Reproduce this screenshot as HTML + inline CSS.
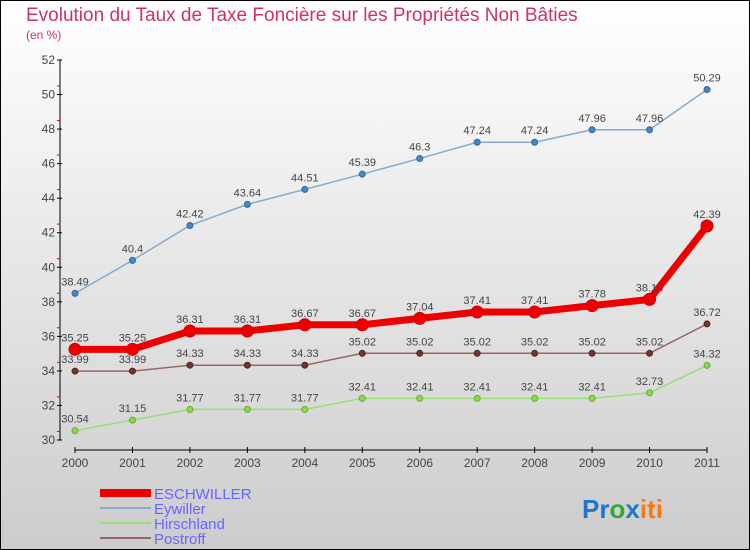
<!DOCTYPE html>
<html><head><meta charset="utf-8"><style>
body{margin:0}
svg{display:block;font-family:"Liberation Sans",sans-serif}
</style></head><body>
<svg width="750" height="550" id="c">
<defs><linearGradient id="bg" x1="0" y1="0" x2="0" y2="1"><stop offset="0" stop-color="#ffffff"/><stop offset="1" stop-color="#cccccc"/></linearGradient></defs>
<rect x="0.5" y="0.5" width="749" height="549" fill="url(#bg)" stroke="#000"/>
<text x="26" y="21" font-size="19" fill="#cc3366">Evolution du Taux de Taxe Foncière sur les Propriétés Non Bâties</text>
<text x="26" y="39" font-size="12" fill="#cc3366">(en %)</text>
<g id="axes"></g><g id="series"></g>
<g>
<rect x="100" y="489" width="51" height="8" fill="#ee0000"/>
<text x="154" y="499" font-size="15" fill="#6666ff">ESCHWILLER</text>
<line x1="100" y1="508" x2="151" y2="508" stroke="#88aacc" stroke-width="2"/>
<text x="154" y="514" font-size="15" fill="#6666ff">Eywiller</text>
<line x1="100" y1="523" x2="151" y2="523" stroke="#99dd77" stroke-width="2"/>
<text x="154" y="529" font-size="15" fill="#6666ff">Hirschland</text>
<line x1="100" y1="538" x2="151" y2="538" stroke="#996666" stroke-width="2"/>
<text x="154" y="544" font-size="15" fill="#6666ff">Postroff</text>
</g>
<text x="582" y="518" font-size="26" font-weight="bold"><tspan fill="#1f77cc">Pr</tspan><tspan fill="#33aa33">o</tspan><tspan fill="#1f77cc">x</tspan><tspan fill="#ff7711">iti</tspan></text>
</svg>
<script>
const years=["2000","2001","2002","2003","2004","2005","2006","2007","2008","2009","2010","2011"];
const yTicks=[30,32,34,36,38,40,42,44,46,48,50,52];
const eschwiller=[35.25,35.25,36.31,36.31,36.67,36.67,37.04,37.41,37.41,37.78,38.14,42.39];
const eywiller=[38.49,40.4,42.42,43.64,44.51,45.39,46.3,47.24,47.24,47.96,47.96,50.29];
const hirschland=[30.54,31.15,31.77,31.77,31.77,32.41,32.41,32.41,32.41,32.41,32.73,34.32];
const postroff=[33.99,33.99,34.33,34.33,34.33,35.02,35.02,35.02,35.02,35.02,35.02,36.72];
const NS="http://www.w3.org/2000/svg";
const xS=i=>75+i*(707-75)/(years.length-1);
const yS=v=>440-(v-30)*(440-60)/22;
function mk(t,a,p){const e=document.createElementNS(NS,t);for(const k in a)e.setAttribute(k,a[k]);p.appendChild(e);return e;}
const ax=document.getElementById('axes');
let e=mk('line',{x1:60,y1:60,x2:60,y2:440,stroke:'#000'},ax);

e=mk('line',{x1:75,y1:450,x2:707,y2:450,stroke:'#000'},ax);

yTicks.forEach(v=>{const y=yS(v);
 mk('line',{x1:57,y1:y,x2:62,y2:y,stroke:'#000'},ax);
 if(v<52)mk('line',{x1:57,y1:y-8.6,x2:60,y2:y-8.6,stroke:'#e00'},ax);
 const t=mk('text',{x:55,y:y+4,'font-size':12,fill:'#444','text-anchor':'end'},ax);t.textContent=v;
 });
years.forEach((yr,i)=>{const x=xS(i);
 mk('line',{x1:x,y1:447,x2:x,y2:453,stroke:'#000'},ax);
 const t=mk('text',{x:x,y:467,'font-size':12,fill:'#444','text-anchor':'middle'},ax);t.textContent=yr;
 });
const sg=document.getElementById('series');
function series(name,vals,col,w,r,dot,dotStroke){
 const g=mk('g',{},sg);
 const p=mk('polyline',{points:vals.map((v,i)=>xS(i)+','+yS(v)).join(' '),fill:'none',stroke:col,'stroke-width':w},g);
 
 vals.forEach((v,i)=>{const c=mk('circle',{cx:xS(i),cy:yS(v),r:r,fill:dot,stroke:dotStroke,'stroke-width':1},g);
  
  const t=mk('text',{x:xS(i),y:yS(v)-8,'font-size':11,fill:'#444','text-anchor':'middle'},g);t.textContent=v;
  });
}
series('eywiller',eywiller,'#88aacc',1.5,3,'#4488cc','#336699');
series('hirschland',hirschland,'#99dd77',1.5,3,'#88dd44','#66aa33');
series('postroff',postroff,'#996666',1.5,3,'#773333','#552222');
series('eschwiller',eschwiller,'#ee0000',7,6,'#ee0000','#cc0000');
</script>
</body></html>
